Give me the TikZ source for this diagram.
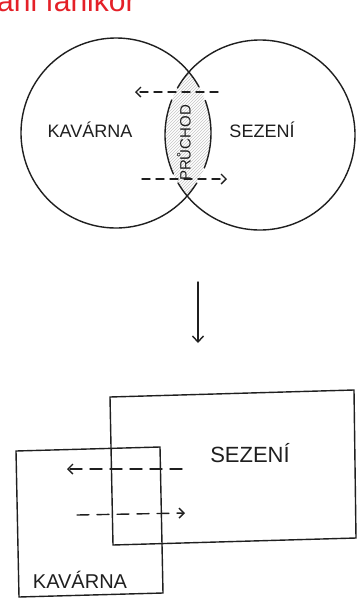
\documentclass[tikz,border=0pt]{standalone}
\usepackage{fontspec}
\setmainfont{Liberation Sans}
\usetikzlibrary{arrows.meta,patterns}
\definecolor{titlered}{RGB}{228,32,40}
\begin{document}
\begin{tikzpicture}[x=1pt,y=-1pt,
  ink/.style={line width=1.4pt, black!88, line cap=round},
  dasharrow/.style={ink, dash pattern=on 8pt off 6pt, -{Straight Barb[length=5pt,width=10pt]}},
  dasharrowb/.style={ink, dash pattern=on 12pt off 8pt, -{Straight Barb[length=5pt,width=10pt]}},
  lbl/.style={inner sep=0pt, text=black!88}]
\useasboundingbox (0,0) rectangle (358,614);
\fill[white] (0,0) rectangle (358,614);
% cut-off title
\node[anchor=base west, inner sep=0pt, text=titlered, font=\fontsize{30}{32}\selectfont] (title) at (-3,11) {ani fanikor};
% hatched passage (lens)
\begin{scope}
  \clip (116,133) circle (95);
  \clip (260,135) circle (95);
  \fill[pattern=north east lines, pattern color=gray!45] (150,60) rectangle (230,210);
\end{scope}
% circles with door gaps
\draw[ink] (116,133) ++(31.8:95) arc[start angle=31.8, end angle=331, radius=95];
\draw[ink] (116,133) ++(-20:95) arc[start angle=-20, end angle=21.6, radius=95];
\draw[ink] (260,135) ++(209.7:95) arc[start angle=209.7, end angle=509.7, radius=95];
\draw[ink] (260,135) ++(155.8:95) arc[start angle=155.8, end angle=201.6, radius=95];
% labels
\node[lbl, font=\fontsize{18}{20}\selectfont] (kav1) at (90,130) {KAVÁRNA};
\node[lbl, font=\fontsize{18}{20}\selectfont] (sez1) at (262,130) {SEZENÍ};
\node[lbl, rotate=90, font=\fontsize{15}{17}\selectfont] (pru) at (184,143) {PRŮCHOD};
% dashed arrows (circles)
\coordinate (d1s) at (218,92);  \coordinate (d1e) at (135,92);
\coordinate (d2s) at (142,179); \coordinate (d2e) at (227,179);
\draw[dasharrow] (d1s) -- (d1e);
\draw[dasharrow] (d2s) -- (d2e);
% down arrow
\coordinate (a1) at (198,282); \coordinate (a2) at (198,343);
\draw[ink, -{Straight Barb[length=6pt,width=11pt]}] (a1) -- (a2);
% rectangles
\draw[ink] (110,397) -- (354,390) -- (356,538) -- (113,545) -- cycle;
\draw[ink] (16,451) -- (160,447) -- (163,593) -- (19,597) -- cycle;
\node[lbl, font=\fontsize{22}{24}\selectfont] (sez2) at (250,453) {SEZENÍ};
\node[lbl, font=\fontsize{20}{22}\selectfont] (kav2) at (80,580) {KAVÁRNA};
% dashed arrows (rectangles)
\coordinate (r1s) at (182,469); \coordinate (r1e) at (67,469);
\coordinate (r2s) at (77,515);  \coordinate (r2e) at (185,513);
\draw[dasharrowb] (r1s) -- (r1e);
\draw[dasharrowb] (r2s) -- (r2e);
\end{tikzpicture}
\end{document}
